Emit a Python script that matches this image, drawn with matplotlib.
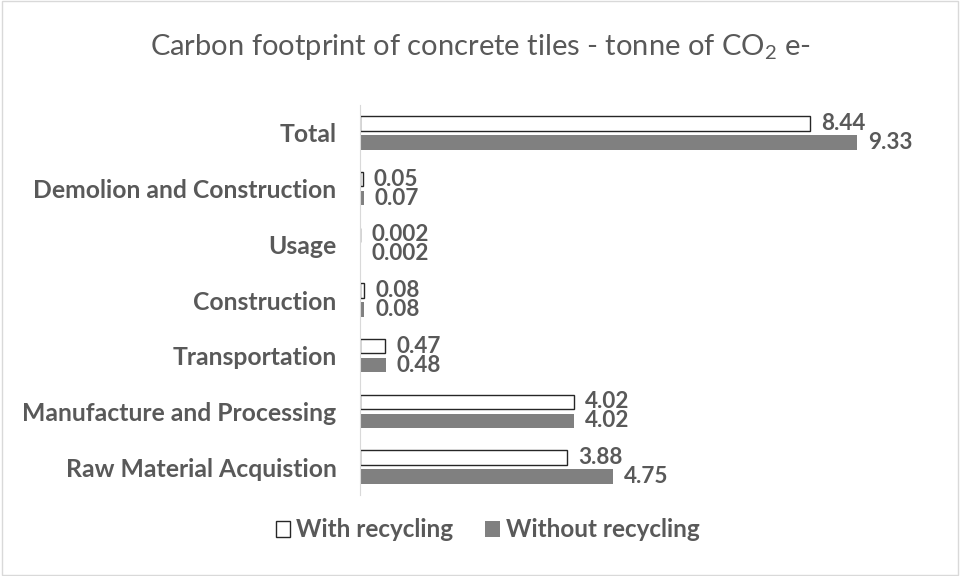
import matplotlib
matplotlib.use("Agg")
import matplotlib.pyplot as plt
import numpy as np
from matplotlib.patches import Rectangle, Patch

categories = ["Raw Material Acquistion", "Manufacture and Processing", "Transportation",
              "Construction", "Usage", "Demolion and Construction", "Total"]
with_recycling = [3.88, 4.02, 0.47, 0.08, 0.002, 0.05, 8.44]
without_recycling = [4.75, 4.02, 0.48, 0.08, 0.002, 0.07, 9.33]
with_labels = ["3.88", "4.02", "0.47", "0.08", "0.002", "0.05", "8.44"]
without_labels = ["4.75", "4.02", "0.48", "0.08", "0.002", "0.07", "9.33"]

FONT = "Lato"
plt.rcParams["font.family"] = [FONT, "DejaVu Sans"]
plt.rcParams["mathtext.fontset"] = "custom"
plt.rcParams["mathtext.rm"] = FONT
TXT = "#595959"

fig = plt.figure(figsize=(9.6, 5.76), dpi=100)
fig.patches.append(Rectangle((0.002, 0.002), 0.996, 0.996, transform=fig.transFigure,
                             fill=False, edgecolor="#d9d9d9", linewidth=1))
ax = fig.add_axes([0.375, 0.1406, 0.555, 0.6771])

y = np.arange(len(categories))
h = 0.26
off = 0.17
ax.barh(y + off, with_recycling, height=h, color="white", edgecolor="#262626",
        linewidth=1, label="With recycling")
ax.barh(y - off, without_recycling, height=h, color="#808080",
        label="Without recycling")

for yi, v, s in zip(y, with_recycling, with_labels):
    ax.annotate(s, (v, yi + off), xytext=(8, 0), textcoords="offset points",
                ha="left", va="center", fontsize=16.2, fontweight="bold", color=TXT)
for yi, v, s in zip(y, without_recycling, without_labels):
    ax.annotate(s, (v, yi - off), xytext=(8, 0), textcoords="offset points",
                ha="left", va="center", fontsize=16.2, fontweight="bold", color=TXT)

ax.set_xlim(0, 10)
ax.set_ylim(-0.5, len(categories) - 0.5)
ax.set_yticks(y)
ax.set_yticklabels(categories, fontsize=17.8, fontweight="bold", color=TXT)
ax.tick_params(axis="y", length=0, pad=17)
ax.set_xticks([])
for s in ["top", "right", "bottom"]:
    ax.spines[s].set_visible(False)
ax.spines["left"].set_color("#d9d9d9")

fig.text(0.5, 0.918, r"Carbon footprint of concrete tiles - tonne of CO$_\mathregular{2}$ e-",
         ha="center", va="center", fontsize=21, color=TXT)

handles = [Patch(facecolor="white", edgecolor="#262626", linewidth=1),
           Patch(facecolor="#808080")]
leg = fig.legend(handles, ["With recycling", "Without recycling"], loc="center",
                 bbox_to_anchor=(0.508, 0.08), ncol=2, frameon=False,
                 prop={"size": 17.5, "weight": "bold"}, handlelength=0.6,
                 handleheight=0.6, handletextpad=0.25, columnspacing=1.3)
for t in leg.get_texts():
    t.set_color(TXT)

fig.savefig("out.png", dpi=100)
